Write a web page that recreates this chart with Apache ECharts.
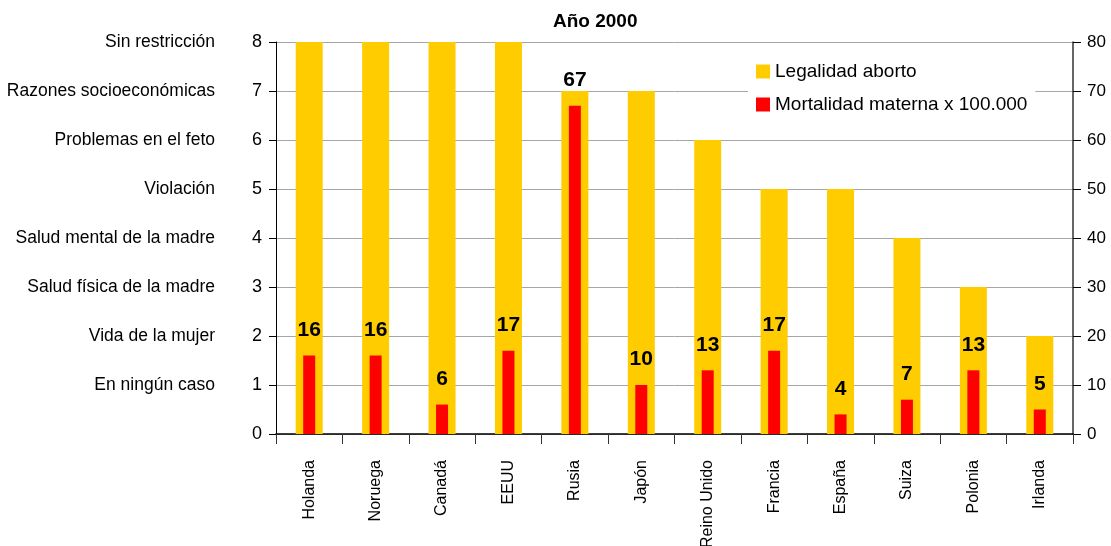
<!DOCTYPE html>
<html>
<head>
<meta charset="utf-8">
<script src="https://cdn.jsdelivr.net/npm/echarts@6/dist/echarts.min.js"></script>
<style>html,body{margin:0;padding:0;background:#fff}#c{width:1111px;height:546px}</style>
</head>
<body>
<div id="c"></div>
<script>
const countries = ['Holanda','Noruega','Canadá','EEUU','Rusia','Japón','Reino Unido','Francia','España','Suiza','Polonia','Irlanda'];
const legalidad = [8,8,8,8,7,7,6,5,5,4,3,2];
const mortalidad = [16,16,6,17,67,10,13,17,4,7,13,5];
const levelLabels = ['', 'En ningún caso', 'Vida de la mujer', 'Salud física de la madre', 'Salud mental de la madre', 'Violación', 'Problemas en el feto', 'Razones socioeconómicas', 'Sin restricción'];
const titleText = 'Año 2000';

const FONT = "'Liberation Sans', Arial, sans-serif";

const chart = echarts.init(document.getElementById('c'), null, {renderer: 'canvas'});
chart.setOption({
  animation: false,
  backgroundColor: '#fff',
  title: {
    text: titleText, left: 548, top: 7,
    textStyle: {fontFamily: FONT, fontWeight: 'bold', fontSize: 19, color: '#000'}
  },
  legend: {
    orient: 'vertical', left: 748, top: 58,
    itemWidth: 14, itemHeight: 14, itemGap: 14,
    icon: 'rect', backgroundColor: '#fff', padding: [4, 8, 4, 8],
    textStyle: {fontFamily: FONT, fontSize: 19, color: '#000'},
    data: ['Legalidad aborto', 'Mortalidad materna x 100.000']
  },
  grid: {left: 276, right: 38, top: 42, bottom: 112, containLabel: false, outerBoundsMode: 'none'},
  xAxis: [
    {
      type: 'category', data: countries, gridIndex: 0,
      axisLine: {lineStyle: {color: '#000', width: 1.5}},
      axisTick: {show: true, length: 10, lineStyle: {color: '#333'}},
      axisLabel: {rotate: 90, margin: 26, fontFamily: FONT, fontSize: 16, color: '#000'}
    },
    {type: 'category', data: countries, show: false, gridIndex: 0}
  ],
  yAxis: [
    {
      type: 'value', min: 0, max: 8, interval: 1, position: 'left',
      axisLine: {show: true, lineStyle: {color: '#000'}},
      axisTick: {show: true, length: 7, lineStyle: {color: '#000'}},
      axisLabel: {margin: 14, fontFamily: FONT, fontSize: 18, color: '#000'},
      splitLine: {show: false}
    },
    {
      type: 'value', min: 0, max: 80, interval: 10, position: 'right',
      axisLine: {show: true, lineStyle: {color: '#333', width: 1.5}},
      axisTick: {show: true, length: 8, lineStyle: {color: '#000'}},
      axisLabel: {margin: 14, fontFamily: FONT, fontSize: 17, color: '#000'},
      splitLine: {show: true, lineStyle: {color: '#a6a6a6', width: 1}}
    },
    {
      type: 'value', min: 0, max: 8, interval: 1, position: 'left',
      axisLine: {show: false}, axisTick: {show: false}, splitLine: {show: false},
      axisLabel: {
        margin: 61, fontFamily: FONT, fontSize: 17.5, color: '#000',
        formatter: v => levelLabels[v] || ''
      }
    }
  ],
  series: [
    {
      name: 'Legalidad aborto', type: 'bar', xAxisIndex: 0, yAxisIndex: 0,
      data: legalidad, barWidth: 27, itemStyle: {color: '#FFCC00'}, z: 2
    },
    {
      name: 'Mortalidad materna x 100.000', type: 'bar', xAxisIndex: 1, yAxisIndex: 1,
      data: mortalidad, barWidth: 12, itemStyle: {color: '#FF0000'}, z: 3,
      label: {show: true, position: 'top', distance: 15, fontFamily: FONT, fontWeight: 'bold', fontSize: 21, color: '#000'}
    }
  ]
});
</script>
</body>
</html>
